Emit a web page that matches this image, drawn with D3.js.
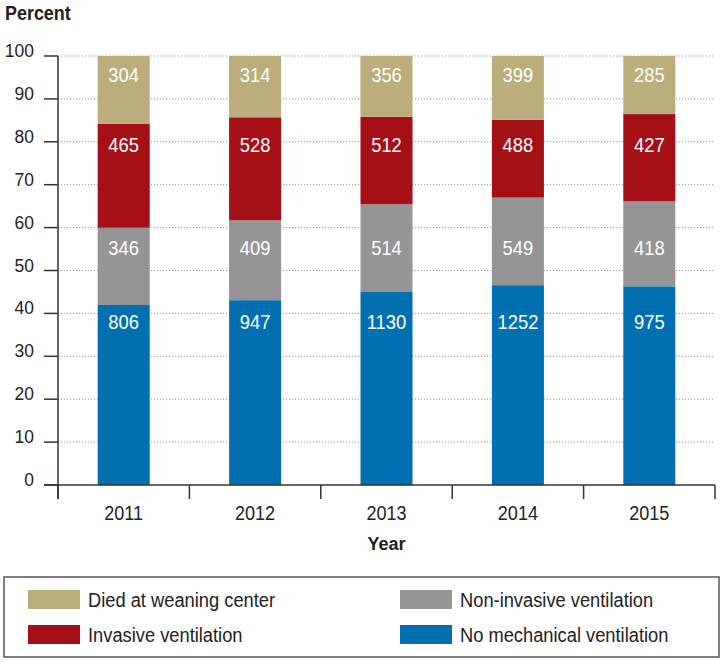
<!DOCTYPE html>
<html>
<head>
<meta charset="utf-8">
<script src="https://cdn.jsdelivr.net/npm/d3@7"></script>
<style>
  html, body { margin: 0; padding: 0; background: #fff; }
  svg { display: block; font-family: "Liberation Sans", Arial, sans-serif; }
  .bold { font-weight: bold; }
</style>
</head>
<body>
<svg id="chart" width="723" height="662"></svg>
<script>
// ---- data ----
const years = ["2011", "2012", "2013", "2014", "2015"];
const noMechanical = [806, 947, 1130, 1252, 975];
const nonInvasive = [346, 409, 514, 549, 418];
const invasive = [465, 528, 512, 488, 427];
const died = [304, 314, 356, 399, 285];
const yTickValues = [0, 10, 20, 30, 40, 50, 60, 70, 80, 90, 100];
const seriesKeys = ["noMech", "nonInv", "inv", "died"];
const seriesNames = ["No mechanical ventilation", "Non-invasive ventilation", "Invasive ventilation", "Died at weaning center"];

// ---- styles / layout ----
const colors = { noMech: "#0070b0", nonInv: "#959595", inv: "#a50f16", died: "#bbad7c" };
const labelLevel = { noMech: 38.0, nonInv: 55.2, inv: 79.3, died: 95.6 }; // label centre (percent axis)
const margin = { left: 58, right: 8, top: 56, bottom: 177 };
const W = 723, H = 662;
const textColor = "#222";

const svg = d3.select("#chart");
const plotW = W - margin.left - margin.right;
const x = d3.scaleBand().domain(years).range([margin.left, margin.left + plotW])
  .paddingInner(0.604).paddingOuter(0.302);
const y = d3.scaleLinear().domain([0, 100]).range([485, 56]);

// place a slightly condensed text at (px, py)
function placeText(sel, px, py, sx) {
  return sel.attr("x", 0).attr("y", 0)
    .attr("transform", (d, i) => {
      const tx = typeof px === "function" ? px(d, i) : px;
      const ty = typeof py === "function" ? py(d, i) : py;
      return `translate(${tx},${ty}) scale(${sx},1)`;
    });
}

const rows = years.map((yr, i) => ({
  year: yr, noMech: noMechanical[i], nonInv: nonInvasive[i], inv: invasive[i], died: died[i]
}));
const stacked = d3.stack().keys(seriesKeys).offset(d3.stackOffsetExpand)(rows);

// gridlines
svg.append("g").selectAll("line").data(yTickValues.filter(v => v > 0)).join("line")
  .attr("x1", margin.left).attr("x2", margin.left + plotW)
  .attr("y1", d => y(d)).attr("y2", d => y(d))
  .attr("stroke", "#9a9a9a").attr("stroke-width", 1).attr("stroke-dasharray", "1.2,1.8");

// bars
const layers = svg.append("g").selectAll("g").data(stacked).join("g")
  .attr("fill", d => colors[d.key]);
layers.selectAll("rect").data(d => d).join("rect")
  .attr("x", d => x(d.data.year))
  .attr("width", x.bandwidth())
  .attr("y", d => y(d[1] * 100))
  .attr("height", d => y(d[0] * 100) - y(d[1] * 100));

// value labels
stacked.forEach(layer => {
  const t = svg.append("g").selectAll("text").data(layer).join("text")
    .attr("text-anchor", "middle")
    .attr("fill", "#fff")
    .attr("font-size", 20)
    .text(d => d.data[layer.key]);
  placeText(t, d => x(d.data.year) + x.bandwidth() / 2, y(labelLevel[layer.key]) + 7, 0.92);
});

// y axis
const axisColor = "#333";
const yAxis = svg.append("g");
yAxis.append("line").attr("x1", margin.left).attr("x2", margin.left)
  .attr("y1", y(100)).attr("y2", 499).attr("stroke", axisColor).attr("stroke-width", 1.5);
yAxis.selectAll("line.tick").data(yTickValues).join("line").attr("class", "tick")
  .attr("x1", 44).attr("x2", margin.left)
  .attr("y1", d => y(d)).attr("y2", d => y(d))
  .attr("stroke", axisColor).attr("stroke-width", 1.5);
const yl = yAxis.selectAll("text").data(yTickValues).join("text")
  .attr("text-anchor", "end").attr("fill", textColor).attr("font-size", 19)
  .text(d => d);
placeText(yl, 34, d => y(d) + 1, 0.92);

// x axis
const xAxis = svg.append("g");
xAxis.append("line").attr("x1", 44).attr("x2", margin.left + plotW)
  .attr("y1", y(0)).attr("y2", y(0)).attr("stroke", axisColor).attr("stroke-width", 1.5);
const boundaries = d3.range(years.length + 1).map(i => margin.left + i * x.step());
xAxis.selectAll("line.tick").data(boundaries).join("line").attr("class", "tick")
  .attr("x1", d => d).attr("x2", d => d)
  .attr("y1", y(0)).attr("y2", 499)
  .attr("stroke", axisColor).attr("stroke-width", 1.5);
const xl = xAxis.selectAll("text").data(years).join("text")
  .attr("text-anchor", "middle").attr("fill", textColor).attr("font-size", 20.5)
  .text(d => d);
placeText(xl, d => x(d) + x.bandwidth() / 2, 520, 0.88);

// axis titles
svg.append("text").attr("class", "bold").attr("x", (margin.left + margin.left + plotW) / 2).attr("y", 550)
  .attr("text-anchor", "middle").attr("font-size", 18)
  .attr("fill", textColor).text("Year");
placeText(svg.append("text").attr("class", "bold").attr("font-size", 19.5)
  .attr("fill", textColor).text("Percent"), 5, 20, 0.92);

// legend
svg.append("rect").attr("x", 4).attr("y", 577).attr("width", 715).attr("height", 80)
  .attr("fill", "none").attr("stroke", "#555").attr("stroke-width", 1.5);
const legendItems = [
  { key: "died", col: 0, row: 0 },
  { key: "nonInv", col: 1, row: 0 },
  { key: "inv", col: 0, row: 1 },
  { key: "noMech", col: 1, row: 1 }
];
const colX = [28, 400], rowY = [590, 625];
const lg = svg.append("g").selectAll("g").data(legendItems).join("g")
  .attr("transform", d => `translate(${colX[d.col]},${rowY[d.row]})`);
lg.append("rect").attr("width", 52).attr("height", 19).attr("fill", d => colors[d.key]);
const lt = lg.append("text").attr("font-size", 20).attr("fill", textColor)
  .text(d => seriesNames[seriesKeys.indexOf(d.key)]);
placeText(lt, 60, 17, 0.915);
</script>
</body>
</html>
